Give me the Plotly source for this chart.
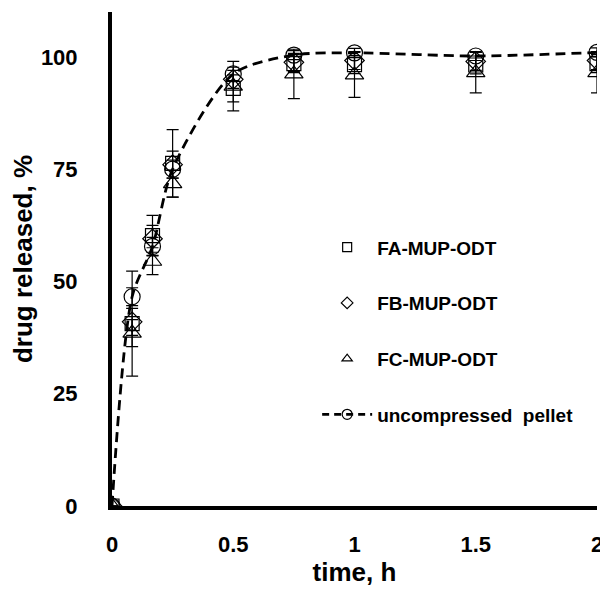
import plotly.graph_objects as go

# time points, h
time_h = [0, 0.083, 0.167, 0.25, 0.5, 0.75, 1, 1.5, 2]

# drug released, %
fa_mup = [0, 40.6, 60.2, 76.3, 93.0, 98.5, 98.3, 98.2, 98.5]
fb_mup = [0, 41.0, 59.5, 76.0, 95.0, 98.8, 99.2, 99.0, 99.2]
fc_mup = [0, 38.5, 54.5, 71.8, 93.5, 96.2, 96.0, 96.5, 96.5]
pellet = [0, 46.6, 57.8, 75.0, 96.2, 100.4, 100.9, 100.2, 101.0]

# standard deviations
fa_err = [0, 11.7, 4.5, 7.5, 3.0, 2.0, 2.0, 2.0, 2.0]
fb_err = [0, 3.0, 3.0, 3.0, 2.0, 2.0, 2.0, 2.0, 2.0]
fc_err = [0, 3.0, 3.0, 3.0, 5.5, 5.5, 5.0, 4.5, 4.5]
pellet_err = [0, 2.0, 2.0, 2.0, 1.5, 1.0, 1.0, 1.0, 1.0]

y_ticks = [0, 25, 50, 75, 100]
x_ticks = [0, 0.5, 1, 1.5, 2]
x_labels = ["0", "0.5", "1", "1.5", "2"]

series = [
    ("FA-MUP-ODT", fa_mup, fa_err, "square-open", 14),
    ("FB-MUP-ODT", fb_mup, fb_err, "diamond-open", 15),
    ("FC-MUP-ODT", fc_mup, fc_err, "triangle-up-open", 16),
]

fig = go.Figure()
for i, (name, vals, err, sym, sz) in enumerate(series):
    fig.add_trace(go.Scatter(
        x=time_h, y=vals, name=name, mode="markers", showlegend=False,
        marker=dict(symbol=sym, size=sz, color="black", line=dict(width=1.2)),
        error_y=dict(type="data", array=err, color="black", thickness=1.2, width=6),
    ))
    # smaller symbol for the legend entry
    fig.add_trace(go.Scatter(
        x=[None], y=[None], name=name, mode="markers", legendgroup=f"g{i}",
        marker=dict(symbol=sym, size=9, color="black", line=dict(width=1.2)),
    ))

fig.add_trace(go.Scatter(
    x=time_h, y=pellet, name="uncompressed  pellet", mode="lines+markers", showlegend=False,
    line=dict(color="black", dash="10px,6px", width=2.8, shape="spline", smoothing=0.8),
    marker=dict(symbol="circle-open", size=16, color="black", line=dict(width=1.2)),
    error_y=dict(type="data", array=pellet_err, color="black", thickness=1.2, width=6),
))
fig.add_trace(go.Scatter(
    x=[None], y=[None], name="uncompressed  pellet", mode="lines+markers", legendgroup="g3",
    line=dict(color="black", dash="7px,5px", width=2.8),
    marker=dict(symbol="circle-open", size=10, color="black", line=dict(width=1.2)),
))

fig.update_layout(
    width=608, height=589,
    margin=dict(l=104, r=19, t=4, b=91),
    plot_bgcolor="white", paper_bgcolor="white",
    font=dict(family="Arial, Liberation Sans, sans-serif", size=22, color="black", weight="bold"),
    legend=dict(
        x=0.423, y=0.562, xanchor="left", yanchor="top",
        font=dict(size=19, weight="bold"),
        itemwidth=50,
        tracegroupgap=28, bgcolor="rgba(0,0,0,0)",
    ),
    xaxis=dict(
        range=[0, 2], tickvals=x_ticks, ticktext=x_labels, automargin=False,
        showline=True, linecolor="black", linewidth=4, showgrid=False, zeroline=False,
        ticks="", ticklabelstandoff=16,
        title=dict(text="time, h", standoff=4),
    ),
    yaxis=dict(
        range=[0, 110], tickvals=y_ticks, automargin=False,
        showline=True, linecolor="black", linewidth=4, showgrid=False, zeroline=False,
        ticks="", ticklabelstandoff=26,
        title=dict(text="drug released, %", standoff=10),
    ),
)

fig.write_html("out.html")
